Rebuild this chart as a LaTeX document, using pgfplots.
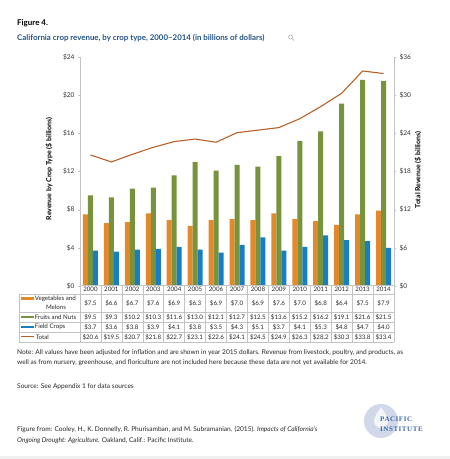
\documentclass[border=0pt]{standalone}
\usepackage{fontspec}
\setmainfont{Lato}
\newfontfamily\logofont[LetterSpace=8]{Liberation Serif}
\usepackage{pgfplots}
\pgfplotsset{compat=1.18}
\usepackage{pgfplotstable}

\definecolor{vegorange}{RGB}{228,137,43}
\definecolor{fruitgreen}{RGB}{119,147,60}
\definecolor{fieldblue}{RGB}{23,126,196}
\definecolor{totalbrown}{RGB}{184,96,40}
\definecolor{titleblue}{RGB}{36,84,136}
\definecolor{rulegray}{RGB}{195,195,195}
\definecolor{logoblue}{RGB}{60,105,170}
\definecolor{logocircle}{RGB}{208,216,233}

% revenue in billions of 2015 dollars
\pgfplotstableread{
x year veg fruit field total
0  2000 7.5 9.5  3.7 20.6
1  2001 6.6 9.3  3.6 19.5
2  2002 6.7 10.2 3.8 20.7
3  2003 7.6 10.3 3.9 21.8
4  2004 6.9 11.6 4.1 22.7
5  2005 6.3 13.0 3.8 23.1
6  2006 6.9 12.1 3.5 22.6
7  2007 7.0 12.7 4.3 24.1
8  2008 6.9 12.5 5.1 24.5
9  2009 7.6 13.6 3.7 24.9
10 2010 7.0 15.2 4.1 26.3
11 2011 6.8 16.2 5.3 28.2
12 2012 6.4 19.1 4.8 30.3
13 2013 7.5 21.6 4.7 33.8
14 2014 7.9 21.5 4.0 33.4
}\croptable

\newcommand\tickfont{\fontsize{6.6}{7}\selectfont}
\newcommand\labelfont{\fontsize{7}{8}\selectfont\bfseries}
\newcommand\cellfont{\fontsize{6.2}{7}\selectfont}
\newcommand\notefont{\fontsize{6.6}{7.5}\selectfont}

\pgfplotsset{
  revenue axis/.style={
    at={(80bp,173bp)}, anchor=south west,
    width=314bp, height=229bp, scale only axis,
    xmin=-0.5, xmax=14.5, ymin=0,
    axis x line=none,
    tick align=outside, major tick length=2bp,
    y axis line style={rulegray},
    ytick style={rulegray},
    yticklabel style={font=\tickfont, text=black!80},
  },
}

\begin{document}
\begin{tikzpicture}
\begin{scope}[x=1bp,y=1bp]
\useasboundingbox (0,0) rectangle (450,459);

% titles
\node[anchor=west, inner sep=0] at (17,436) {\fontsize{8}{9}\selectfont\bfseries Figure 4.};
\node[anchor=west, inner sep=0, text=titleblue] at (17,421)
  {\fontsize{7.9}{8}\selectfont\bfseries California crop revenue, by crop type, 2000--2014 (in billions of dollars)};
\draw[gray!70, line width=0.5bp] (290.5,422) circle (2);
\draw[gray!70, line width=0.6bp] (292,420.5) -- (294,418.5);
\end{scope}

\begin{axis}[
  revenue axis, ymax=24,
  axis y line*=left,
  ybar=0pt, bar width=5bp,
  ytick={0,4,...,24},
  yticklabels={\$0,\$4,\$8,\$12,\$16,\$20,\$24},
]
\addplot[fill=vegorange, draw=none] table[x=x, y=veg] {\croptable};
\addplot[fill=fruitgreen, draw=none] table[x=x, y=fruit] {\croptable};
\addplot[fill=fieldblue, draw=none] table[x=x, y=field] {\croptable};
\end{axis}

\begin{axis}[
  revenue axis, ymax=36,
  axis y line*=right,
  ytick={0,6,...,36},
  yticklabels={\$0,\$6,\$12,\$18,\$24,\$30,\$36},
]
\addplot[totalbrown, line width=1.1bp, mark=none] table[x=x, y=total] {\croptable};
\end{axis}

\begin{scope}[x=1bp,y=1bp]
% axis titles
\node[rotate=90, font=\labelfont] at (49,290) {Revenue by Crop Type (\$ billions)};
\node[rotate=90, font=\labelfont] at (418,289) {Total Revenue (\$ billions)};

% data table under the chart
\begin{scope}[rulegray, line width=0.5bp]
  \draw (80,174) -- (394,174);
  \foreach \yy in {165,147,137,127,117} \draw (19,\yy) -- (394,\yy);
  \draw (19,165) -- (19,117);
  \foreach \k in {0,...,15} \draw ({80+20.933*\k},174) -- ({80+20.933*\k},117);
\end{scope}

\foreach \i in {0,...,14} {
  \pgfmathsetmacro\cx{80+20.933*(\i+0.5)}
  \pgfplotstablegetelem{\i}{year}\of\croptable
  \node[font=\cellfont, text=black!85] at (\cx,169.5) {\pgfplotsretval};
  \pgfplotstablegetelem{\i}{veg}\of\croptable
  \node[font=\cellfont, text=black!85] at (\cx,156) {\$\pgfplotsretval};
  \pgfplotstablegetelem{\i}{fruit}\of\croptable
  \node[font=\cellfont, text=black!85] at (\cx,142) {\$\pgfplotsretval};
  \pgfplotstablegetelem{\i}{field}\of\croptable
  \node[font=\cellfont, text=black!85] at (\cx,132) {\$\pgfplotsretval};
  \pgfplotstablegetelem{\i}{total}\of\croptable
  \node[font=\cellfont, text=black!85] at (\cx,122) {\$\pgfplotsretval};
}

% row labels with series keys
\draw[vegorange, line width=2.2bp] (21,160.5) -- (34,160.5);
\node[anchor=west, inner sep=0.6bp, font=\cellfont, text=black!85] at (34,160.5) {Vegetables and};
\node[font=\cellfont, text=black!85] at (56,152) {Melons};
\draw[fruitgreen, line width=2.2bp] (21,142) -- (34,142);
\node[anchor=west, inner sep=0.6bp, font=\cellfont, text=black!85] at (34,142) {Fruits and Nuts};
\draw[fieldblue, line width=2.2bp] (21,132) -- (34,132);
\node[anchor=west, inner sep=0.6bp, font=\cellfont, text=black!85] at (34,132) {Field Crops};
\draw[totalbrown, line width=1bp] (21,122) -- (34,122);
\node[anchor=west, inner sep=0.6bp, font=\cellfont, text=black!85] at (35,122) {Total};

% notes
\node[anchor=west, inner sep=0, font=\notefont, text=black!85] at (17,106)
  {Note: All values have been adjusted for inflation and are shown in year 2015 dollars. Revenue from livestock, poultry, and products, as};
\node[anchor=west, inner sep=0, font=\notefont, text=black!85] at (17,96)
  {well as from nursery, greenhouse, and floriculture are not included here because these data are not yet available for 2014.};
\node[anchor=west, inner sep=0, font=\notefont, text=black!85] at (17,72)
  {Source: See Appendix 1 for data sources};
\node[anchor=west, inner sep=0, font=\notefont, text=black!85] at (17,29)
  {Figure from: Cooley, H., K. Donnelly, R. Phurisamban, and M. Subramanian. (2015). \textit{Impacts of California's}};
\node[anchor=west, inner sep=0, font=\notefont, text=black!85] at (17,18)
  {\textit{Ongoing Drought: Agriculture}. Oakland, Calif.: Pacific Institute.};

% logo
\fill[logocircle] (381,38) circle (17);
\fill[white, opacity=0.75] (381,52) .. controls (378,47) and (374,43) .. (374,38)
  arc[start angle=180, end angle=360, radius=7] .. controls (388,43) and (384,47) .. (381,52);
\node[anchor=west, inner sep=0, text=logoblue] at (380,39.5) {\logofont\fontsize{7}{8}\selectfont\bfseries PACIFIC};
\node[anchor=west, inner sep=0, text=logoblue] at (380,30) {\logofont\fontsize{7}{8}\selectfont\bfseries INSTITUTE};

\fill[gray!12] (0,0) rectangle (450,3);
\end{scope}
\end{tikzpicture}
\end{document}
